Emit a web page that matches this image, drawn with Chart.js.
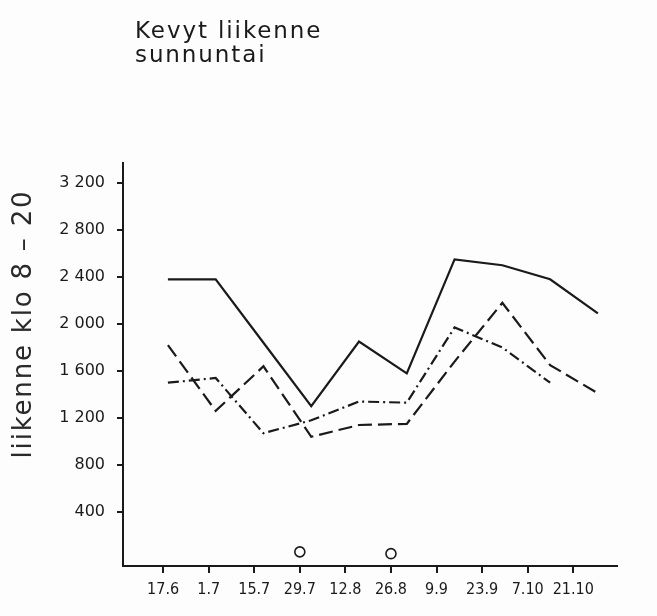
<!DOCTYPE html>
<html>
<head>
<meta charset="utf-8">
<script src="https://cdn.jsdelivr.net/npm/chart.js@4.4.1/dist/chart.umd.min.js"></script>
<style>
    html, body { margin: 0; padding: 0; background: #fdfdfd; }
    #wrap { position: relative; width: 657px; height: 616px; }
    #chart { position: absolute; left: 0; top: 0; }
    .title {
        position: absolute; left: 135px; top: 18px;
        font-family: "DejaVu Sans", sans-serif; font-size: 23px; line-height: 24px;
        letter-spacing: 1.9px; color: #1a1a1a;
    }
    .ytitle {
        position: absolute; left: -128px; top: 308px; width: 300px;
        text-align: center; transform: rotate(-90deg);
        font-family: "DejaVu Sans", sans-serif; font-size: 26px; line-height: 32px;
        letter-spacing: 1.8px; color: #2a2a2a;
    }
</style>
</head>
<body>
<div id="wrap">
    <canvas id="chart" width="657" height="616"></canvas>
    <div class="title">Kevyt liikenne<br>sunnuntai</div>
    <div class="ytitle">liikenne klo 8 – 20</div>
</div>
<script>
// Data
const dates = ['17.6', '1.7', '15.7', '29.7', '12.8', '26.8', '9.9', '23.9', '7.10', '21.10'];
const solidLine = [2380, 2380, 1840, 1300, 1850, 1580, 2550, 2500, 2380, 2090];
const dashedLine = [1820, 1260, 1640, 1040, 1140, 1150, 1680, 2180, 1650, 1410];
const dashDotLine = [1500, 1540, 1070, 1180, 1340, 1330, 1970, 1800, 1500, null];
const circleIdx = [3, 5];
const circleVals = [60, 45];
const yTicks = [400, 800, 1200, 1600, 2000, 2400, 2800, 3200];
const yTickLabels = ['400', '800', '1 200', '1 600', '2 000', '2 400', '2 800', '3 200'];

const ink = '#1a1a1a';
const xTickFont = { family: '"DejaVu Sans Condensed", "Liberation Sans Narrow", "DejaVu Sans", sans-serif', size: 16 };
const yTickFont = { family: '"DejaVu Sans", sans-serif', size: 16 };

function toPoints(arr) {
    return arr.map(function(v, i) { return { x: i, y: v }; });
}

function lineSet(arr, dash) {
    return {
        data: toPoints(arr),
        xAxisID: 'xd',
        borderColor: ink,
        borderWidth: 2.2,
        borderDash: dash,
        pointRadius: 0,
        tension: 0,
        fill: false,
        spanGaps: false
    };
}

document.addEventListener('DOMContentLoaded', function() {
    const ctx = document.getElementById('chart');

    new Chart(ctx.getContext('2d'), {
        type: 'line',
        data: {
            datasets: [
                lineSet(solidLine, []),
                lineSet(dashedLine, [14, 6]),
                lineSet(dashDotLine, [11, 4, 2, 4]),
                {
                    data: circleIdx.map(function(i, k) { return { x: i, y: circleVals[k] }; }),
                    xAxisID: 'x',
                    showLine: false,
                    pointRadius: 5,
                    pointStyle: 'circle',
                    pointBorderColor: ink,
                    pointBorderWidth: 1.6,
                    pointBackgroundColor: '#fdfdfd'
                }
            ]
        },
        options: {
            responsive: false,
            animation: false,
            layout: { padding: { left: 0, top: 163, right: 40, bottom: 0 } },
            plugins: { legend: { display: false }, tooltip: { enabled: false } },
            scales: {
                x: {
                    type: 'linear',
                    min: -0.88,
                    max: 9.96,
                    afterBuildTicks: function(scale) {
                        scale.ticks = dates.map(function(_, i) { return { value: i }; });
                    },
                    afterFit: function(scale) { scale.height = 50; },
                    ticks: {
                        callback: function(v) { return dates[v]; },
                        color: '#1a1a1a',
                        font: xTickFont,
                        padding: 7,
                        maxRotation: 0,
                        autoSkip: false
                    },
                    grid: { drawOnChartArea: false, drawTicks: true, tickLength: 7, color: ink, lineWidth: 2 },
                    border: { display: true, color: ink, width: 2 }
                },
                xd: {
                    type: 'linear',
                    display: false,
                    min: -0.94,
                    max: 9.4
                },
                y: {
                    type: 'linear',
                    min: -60,
                    max: 3370,
                    afterBuildTicks: function(scale) {
                        scale.ticks = yTicks.map(function(v) { return { value: v }; });
                    },
                    afterFit: function(scale) { scale.width = 123; },
                    ticks: {
                        callback: function(v, i) { return yTickLabels[i]; },
                        color: '#1a1a1a',
                        font: yTickFont,
                        padding: 12
                    },
                    grid: { drawOnChartArea: false, drawTicks: true, tickLength: 6, color: ink, lineWidth: 2 },
                    border: { display: true, color: ink, width: 2 }
                }
            }
        }
    });
});
</script>
</body>
</html>
